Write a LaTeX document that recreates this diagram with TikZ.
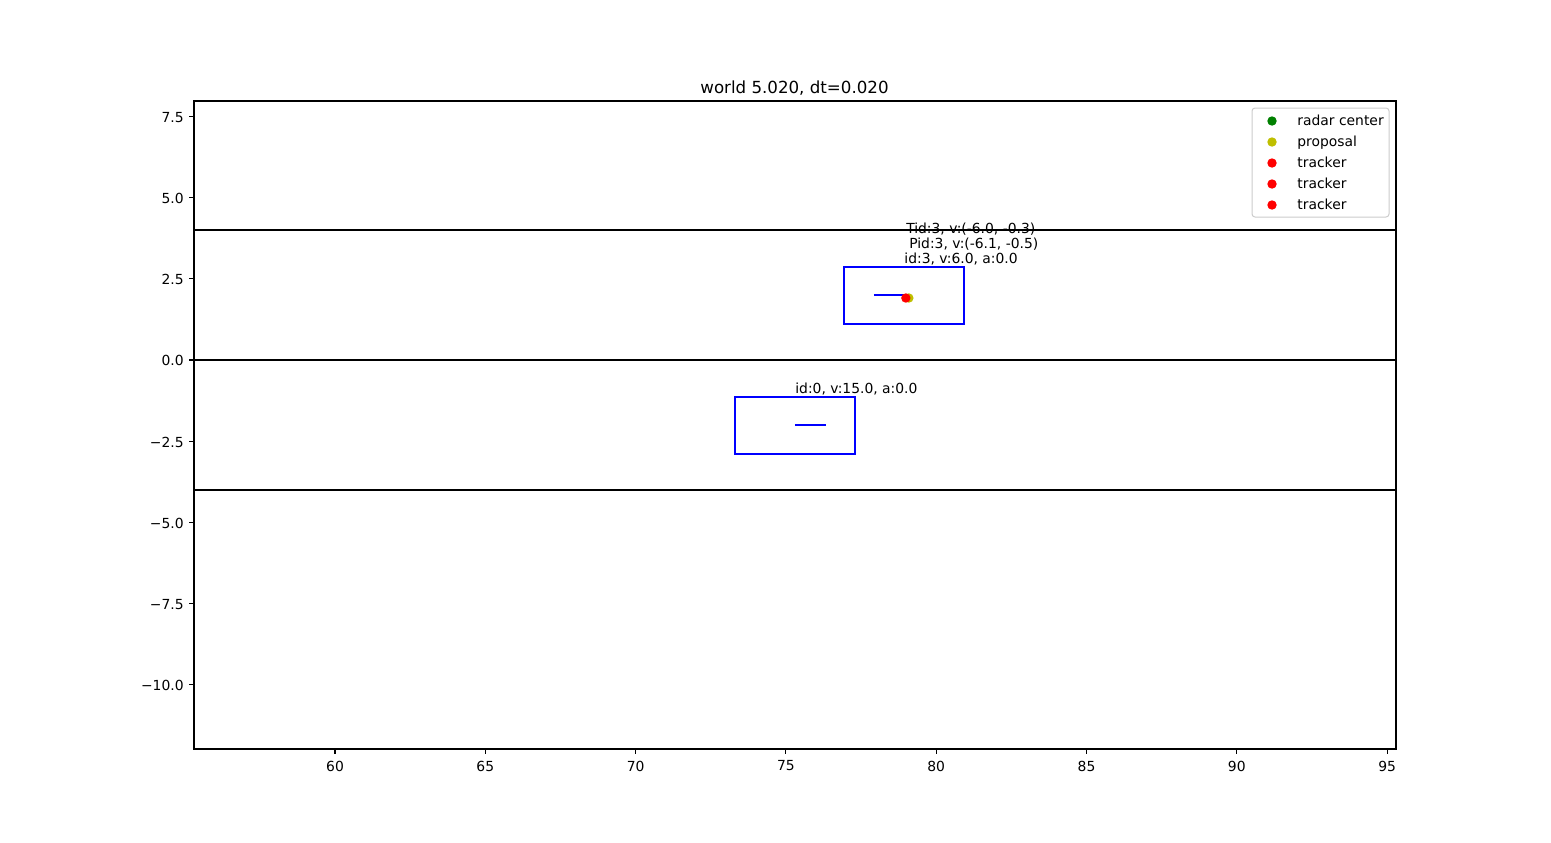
\documentclass[tikz,border=0pt]{standalone}
\usepackage{fontspec}
\setmainfont{DejaVu Sans}
\usepackage{tikz}
\usetikzlibrary{positioning}
\definecolor{plotgreen}{rgb}{0,0.5,0}
\definecolor{plotyellow}{rgb}{0.75,0.75,0}
\definecolor{legendedge}{rgb}{0.8,0.8,0.8}

\begin{document}
\begin{tikzpicture}[x=0.5pt, y=-0.5pt,
        every node/.style={font=\fontsize{6.94}{8.3}\selectfont, inner sep=0pt},
        frame/.style={draw=black, line width=0.55pt},
        lane/.style={draw=black, line width=1.04pt},
        objbox/.style={draw=blue, line width=1.04pt},
        dot/.style={circle, minimum size=4.7pt, inner sep=0pt},
        lbl/.style={anchor=base west}]

      \useasboundingbox[fill=white] (0,0) rectangle (1551,842);

      % title
      \node[font=\fontsize{8.33}{10}\selectfont, anchor=base] (title) at (794.5,93.3)
        {world 5.020, dt=0.020};

      % objects in data coordinates
      \begin{scope}[shift={(-1468.6,360)}, xscale=30.06, yscale=-32.46]
        \draw[lane] (55.31,4) -- (95.3,4);
        \draw[lane] (55.31,0) -- (95.3,0);
        \draw[lane] (55.31,-4) -- (95.3,-4);

        \draw[objbox] (76.93,1.11) rectangle (80.93,2.87);
        \draw[blue, line width=1.04pt] (77.93,1.99) -- (78.93,1.99);
        \draw[objbox] (73.31,-1.14) rectangle (77.31,-2.9);
        \draw[blue, line width=1.04pt] (75.3,-2.0) -- (76.33,-2.0);

        \node[dot, fill=plotyellow] (prop) at (79.09,1.91) {};
        \node[dot, fill=red] (trk) at (78.99,1.91) {};

        \node[lbl] (tid) at (78.99,3.91) {Tid:3, v:(-6.0, -0.3)};
        \node[lbl] (pid) at (79.09,3.42) {Pid:3, v:(-6.1, -0.5)};
        \node[lbl] (obj3) at (78.93,2.98) {id:3, v:6.0, a:0.0};
        \node[lbl] (obj0) at (75.3,-1.04) {id:0, v:15.0, a:0.0};
      \end{scope}

      % axes
      \draw[frame] (194,101) rectangle (1396,749);
      \foreach \v [evaluate=\v as \px using 335+(\v-60)*30.06] in {60,65,...,95} {
        \draw[frame] (\px,749) -- (\px,753.9);
        \node (xt\v) at (\px,766) {\v};
      }
      \foreach \v/\lab [count=\i, evaluate=\v as \py using 360-\v*32.46] in
          {7.5/7.5, 5/5.0, 2.5/2.5, 0/0.0, -2.5/−2.5, -5/−5.0, -7.5/−7.5, -10/−10.0} {
        \draw[frame] (194,\py) -- (189.1,\py);
        \node[anchor=east] (yt\i) at (184,\py+0.8) {\lab};
      }

      % legend
      \draw[draw=legendedge, fill=white, line width=0.5pt, rounded corners=1.5pt]
        (1252,108) rectangle (1389,217);
      \foreach \c/\t [count=\i, evaluate=\i as \ly using 99.5+21*\i] in
          {plotgreen/radar center, plotyellow/proposal, red/tracker, red/tracker, red/tracker} {
        \node[dot, fill=\c] (key\i) at (1272,\ly+0.5) {};
        \node[anchor=base west] (ktext\i) at (1297,\ly+4.8) {\t};
      }
    \end{tikzpicture}
\end{document}
